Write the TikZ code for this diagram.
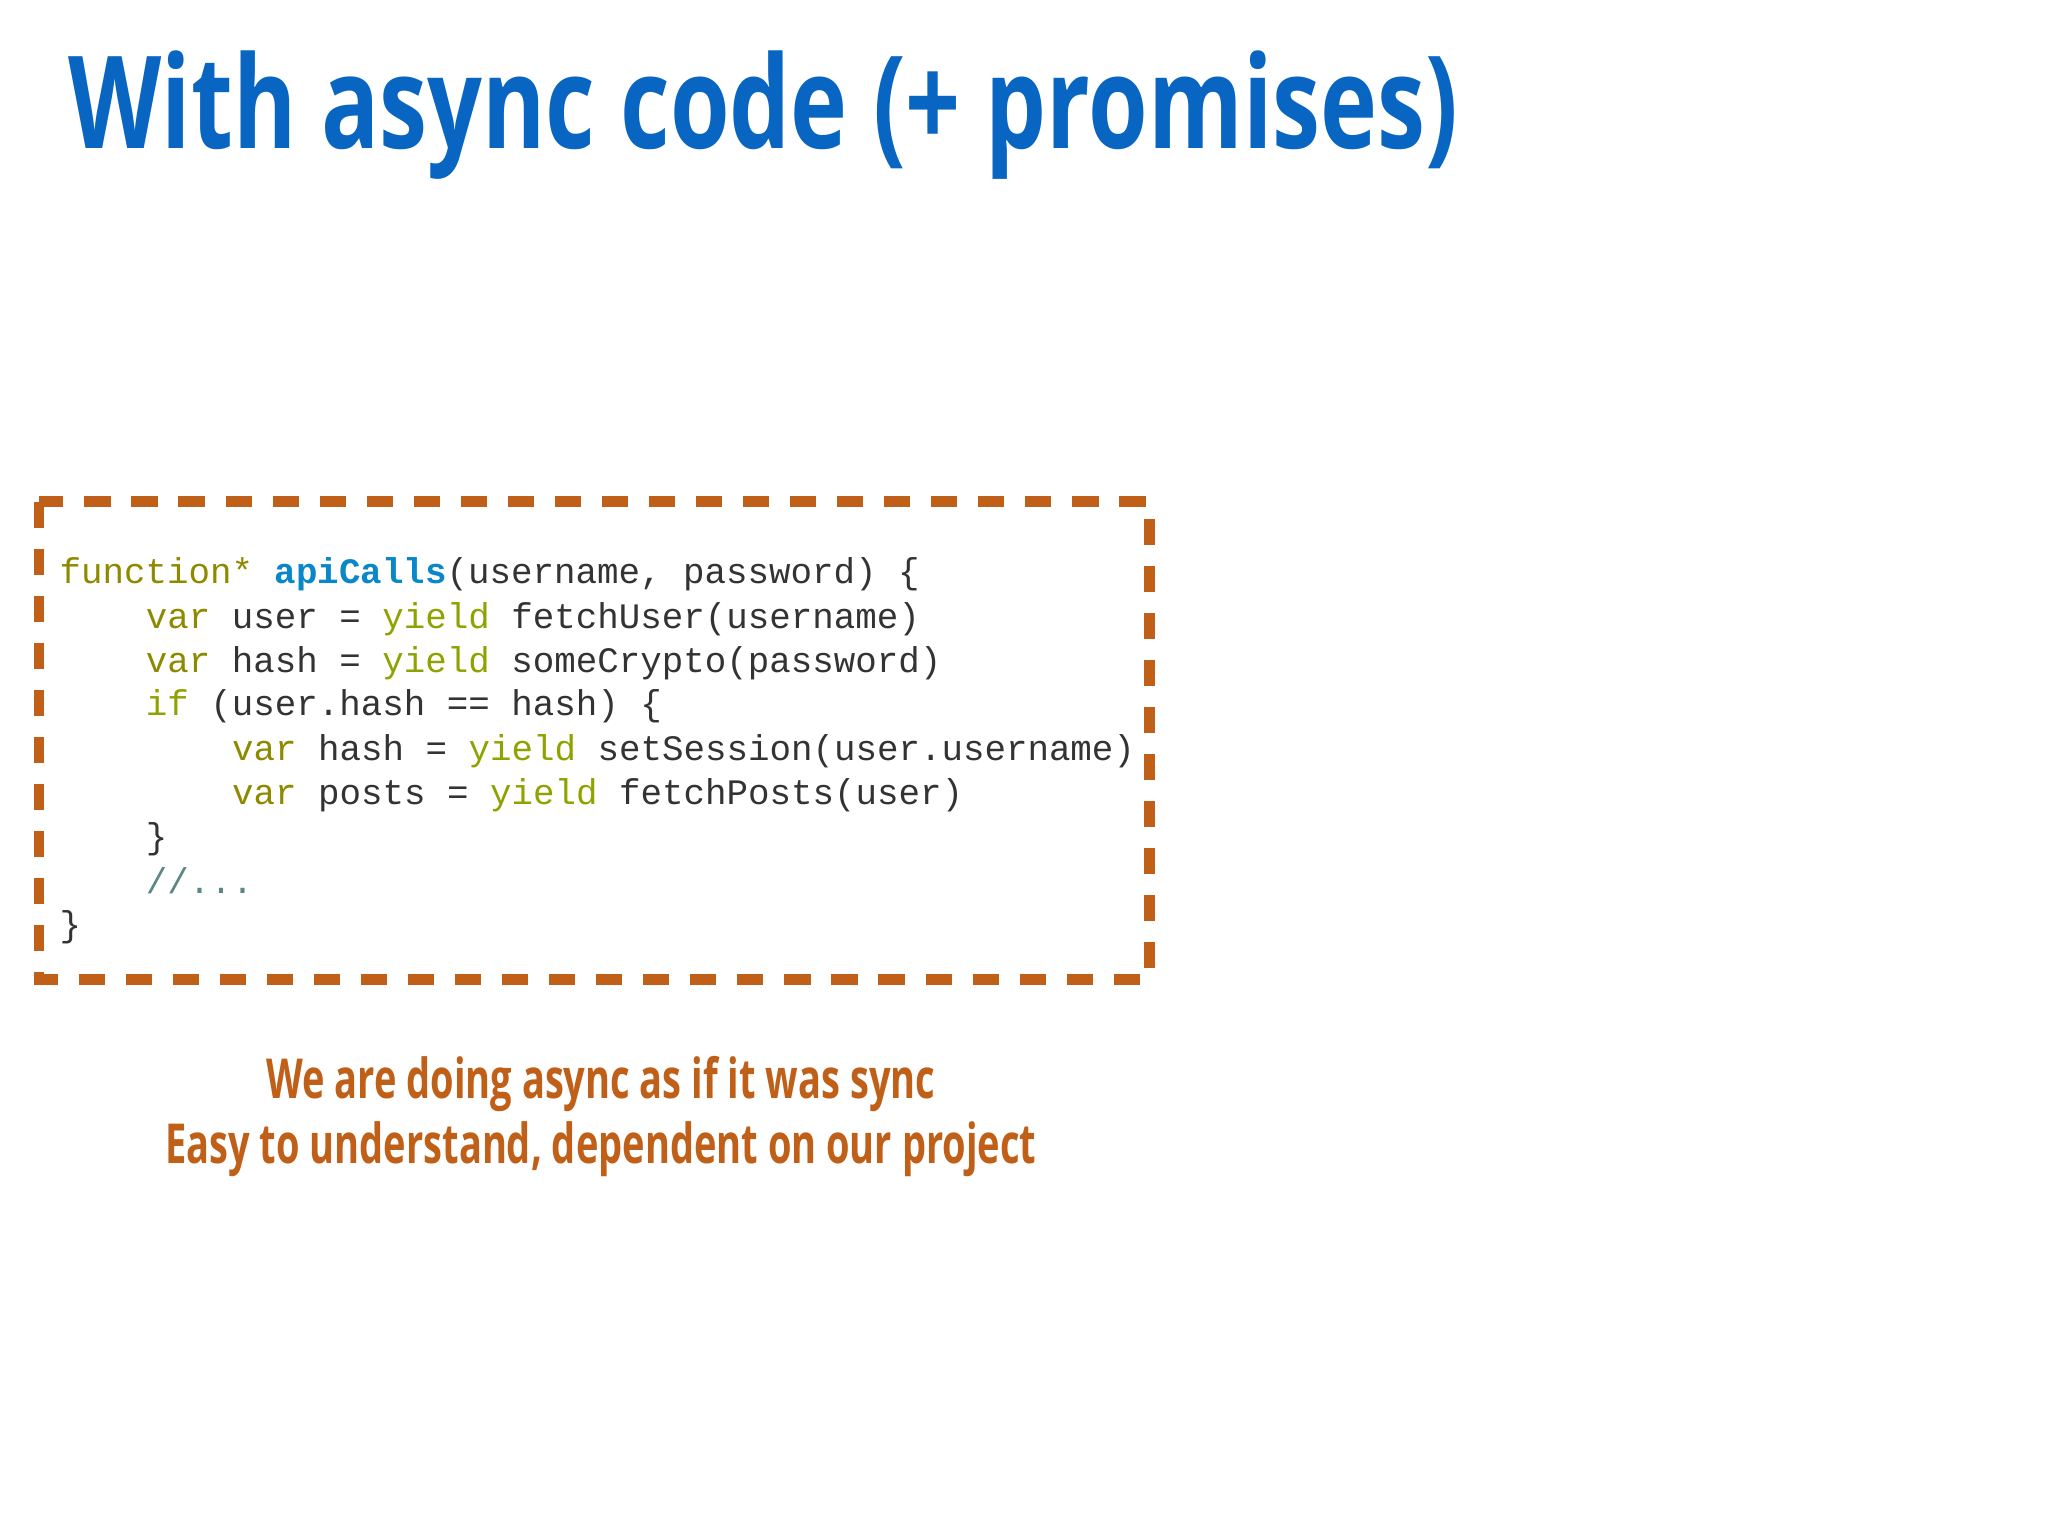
\documentclass[tikz,border=0pt]{standalone}
\usepackage{fontspec}
\setmainfont{Open Sans}
\setmonofont{Liberation Mono}
\definecolor{ttl}{HTML}{0866C2}
\definecolor{org}{HTML}{C05F17}
\definecolor{kw}{HTML}{8E8A00}
\definecolor{yl}{HTML}{8FA300}
\definecolor{fn}{HTML}{0A87C9}
\definecolor{cm}{HTML}{5E8585}
\definecolor{tx}{HTML}{333333}
\begin{document}
\begin{tikzpicture}[x=0.01cm,y=-0.01cm,
  code/.style={anchor=base west,inner sep=0,font=\ttfamily\fontsize{7.8}{9.6}\selectfont,text=tx},
  captext/.style={font=\bfseries\fontsize{12}{15}\selectfont,text=org,xscale=0.69}]
\useasboundingbox (0,0) rectangle (1568,1176);
\node[anchor=base west,inner sep=0,text=ttl,font=\bfseries\fontsize{28}{34}\selectfont,xscale=0.75] (title) at (52,114) {With async code (+ promises)};
\draw[org,line width=0.08cm,dash pattern=on 0.2cm off 0.16cm] (30,384) rectangle (880,750);
\node[code] (l1) at (45,447) {\textcolor{kw}{function*} \textcolor{fn}{\bfseries apiCalls}(username, password) \{};
\node[code] (l2) at (111,481) {\textcolor{kw}{var} user = \textcolor{yl}{yield} fetchUser(username)};
\node[code] (l3) at (111,515) {\textcolor{kw}{var} hash = \textcolor{yl}{yield} someCrypto(password)};
\node[code] (l4) at (111,548) {\textcolor{yl}{if} (user.hash == hash) \{};
\node[code] (l5) at (177,582) {\textcolor{kw}{var} hash = \textcolor{yl}{yield} setSession(user.username)};
\node[code] (l6) at (177,616) {\textcolor{kw}{var} posts = \textcolor{yl}{yield} fetchPosts(user)};
\node[code] (l7) at (111,650) {\}};
\node[code] (l8) at (111,684) {\textcolor{cm}{//...}};
\node[code] (l9) at (45,717) {\}};
\node[captext] (c1) at (460,830) {We are doing async as if it was sync};
\node[captext] (c2) at (460,880) {Easy to understand, dependent on our project};
\end{tikzpicture}
\end{document}
